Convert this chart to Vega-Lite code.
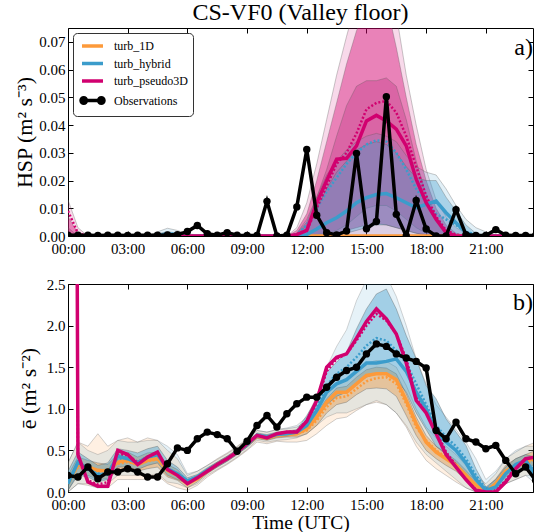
{
"$schema": "https://vega.github.io/schema/vega-lite/v6.json",
"padding": {"left": 13, "top": 0, "right": 0, "bottom": 0},
"config": {
  "font": "Liberation Serif",
  "view": {"stroke": "#000", "strokeWidth": 1},
  "axis": {"grid": false, "domain": false, "tickColor": "#000", "tickSize": -5, "labelPadding": 8, "labelFont": "Liberation Serif", "labelFontSize": 15, "labelColor": "#000", "labelFlush": false, "titleFont": "Liberation Serif", "titleFontSize": 22, "titleFontWeight": "normal", "titleColor": "#000"},
  "axisBottom": {"labelPadding": 10},
  "legend": {"labelFont": "Liberation Serif"},
  "text": {"font": "Liberation Serif"},
  "title": {"font": "Liberation Serif", "fontSize": 24, "fontWeight": "normal", "color": "#000", "offset": 3}
},
"spacing": 48,
"bounds": "flush",
"resolve": {"scale": {"color": "independent"}, "legend": {"color": "independent"}},
"datasets": {
"a": [
{"h":0,"Observations":0.0003,"turb_1D":0,"turb_hybrid":0,"hyd":0,"turb_pseudo3D":0,"p3d":0.009,"p3o":0.013,"p3ml":0,"p3m":0.007,"p3il":0,"p3i":0.003,"hyo":0.001,"hyil":0,"hyi":0},
{"h":0.5,"Observations":0.0003,"turb_1D":0,"turb_hybrid":0,"hyd":0,"turb_pseudo3D":0,"p3d":0.001,"p3o":0.003,"p3ml":0,"p3m":0.001,"p3il":0,"p3i":0,"hyo":0.0005,"hyil":0,"hyi":0},
{"h":1,"Observations":0.0003,"turb_1D":0,"turb_hybrid":0,"hyd":0,"turb_pseudo3D":0,"p3d":0,"p3o":0,"p3ml":0,"p3m":0,"p3il":0,"p3i":0,"hyo":0,"hyil":0,"hyi":0},
{"h":1.5,"Observations":0.0002,"turb_1D":0,"turb_hybrid":0,"hyd":0,"turb_pseudo3D":0,"p3d":0,"p3o":0,"p3ml":0,"p3m":0,"p3il":0,"p3i":0,"hyo":0,"hyil":0,"hyi":0},
{"h":2,"Observations":0.0003,"turb_1D":0,"turb_hybrid":0,"hyd":0,"turb_pseudo3D":0,"p3d":0,"p3o":0,"p3ml":0,"p3m":0,"p3il":0,"p3i":0,"hyo":0,"hyil":0,"hyi":0},
{"h":2.5,"Observations":0.0003,"turb_1D":0,"turb_hybrid":0,"hyd":0,"turb_pseudo3D":0,"p3d":0,"p3o":0,"p3ml":0,"p3m":0,"p3il":0,"p3i":0,"hyo":0,"hyil":0,"hyi":0},
{"h":3,"Observations":0.0002,"turb_1D":0,"turb_hybrid":0,"hyd":0,"turb_pseudo3D":0,"p3d":0,"p3o":0,"p3ml":0,"p3m":0,"p3il":0,"p3i":0,"hyo":0,"hyil":0,"hyi":0},
{"h":3.5,"Observations":0.0003,"turb_1D":0,"turb_hybrid":0,"hyd":0,"turb_pseudo3D":0,"p3d":0,"p3o":0,"p3ml":0,"p3m":0,"p3il":0,"p3i":0,"hyo":0,"hyil":0,"hyi":0},
{"h":4,"Observations":0.0003,"turb_1D":0,"turb_hybrid":0,"hyd":0,"turb_pseudo3D":0,"p3d":0,"p3o":0,"p3ml":0,"p3m":0,"p3il":0,"p3i":0,"hyo":0,"hyil":0,"hyi":0},
{"h":4.5,"Observations":0.0003,"turb_1D":0,"turb_hybrid":0,"hyd":0,"turb_pseudo3D":0,"p3d":0,"p3o":0,"p3ml":0,"p3m":0,"p3il":0,"p3i":0,"hyo":0.0015,"hyil":0,"hyi":0.0008},
{"h":5,"Observations":0.0004,"turb_1D":0,"turb_hybrid":0.0008,"hyd":0.001,"turb_pseudo3D":0,"p3d":0,"p3o":0,"p3ml":0,"p3m":0,"p3il":0,"p3i":0,"hyo":0.0028,"hyil":0,"hyi":0.0016},
{"h":5.5,"Observations":0.0005,"turb_1D":0,"turb_hybrid":0.0004,"hyd":0.0005,"turb_pseudo3D":0,"p3d":0,"p3o":0,"p3ml":0,"p3m":0,"p3il":0,"p3i":0,"hyo":0.002,"hyil":0,"hyi":0.001},
{"h":6,"Observations":0.0016,"turb_1D":0,"turb_hybrid":0,"hyd":0,"turb_pseudo3D":0,"p3d":0,"p3o":0,"p3ml":0,"p3m":0,"p3il":0,"p3i":0,"hyo":0.0008,"hyil":0,"hyi":0.0003},
{"h":6.5,"Observations":0.0038,"turb_1D":0,"turb_hybrid":0,"hyd":0,"turb_pseudo3D":0,"p3d":0,"p3o":0,"p3ml":0,"p3m":0,"p3il":0,"p3i":0,"hyo":0.0004,"hyil":0,"hyi":0},
{"h":7,"Observations":0.0008,"turb_1D":0,"turb_hybrid":0,"hyd":0,"turb_pseudo3D":0,"p3d":0,"p3o":0,"p3ml":0,"p3m":0,"p3il":0,"p3i":0,"hyo":0,"hyil":0,"hyi":0},
{"h":7.5,"Observations":0.0003,"turb_1D":0,"turb_hybrid":0,"hyd":0,"turb_pseudo3D":0,"p3d":0,"p3o":0,"p3ml":0,"p3m":0,"p3il":0,"p3i":0,"hyo":0,"hyil":0,"hyi":0},
{"h":8,"Observations":0.0012,"turb_1D":0,"turb_hybrid":0,"hyd":0,"turb_pseudo3D":0,"p3d":0,"p3o":0,"p3ml":0,"p3m":0,"p3il":0,"p3i":0,"hyo":0,"hyil":0,"hyi":0},
{"h":8.5,"Observations":0.0003,"turb_1D":0,"turb_hybrid":0,"hyd":0,"turb_pseudo3D":0,"p3d":0,"p3o":0,"p3ml":0,"p3m":0,"p3il":0,"p3i":0,"hyo":0,"hyil":0,"hyi":0},
{"h":9,"Observations":0.0002,"turb_1D":0,"turb_hybrid":0,"hyd":0,"turb_pseudo3D":0,"p3d":0,"p3o":0,"p3ml":0,"p3m":0,"p3il":0,"p3i":0,"hyo":0,"hyil":0,"hyi":0},
{"h":9.5,"Observations":0.0002,"turb_1D":0,"turb_hybrid":0,"hyd":0,"turb_pseudo3D":0,"p3d":0,"p3o":0,"p3ml":0,"p3m":0,"p3il":0,"p3i":0,"hyo":0,"hyil":0,"hyi":0},
{"h":10,"Observations":0.0125,"turb_1D":0,"turb_hybrid":0,"hyd":0,"turb_pseudo3D":0,"p3d":0,"p3o":0,"p3ml":0,"p3m":0,"p3il":0,"p3i":0,"hyo":0,"hyil":0,"hyi":0},
{"h":10.5,"Observations":0,"turb_1D":0,"turb_hybrid":0,"hyd":0,"turb_pseudo3D":0,"p3d":0,"p3o":0,"p3ml":0,"p3m":0,"p3il":0,"p3i":0,"hyo":0,"hyil":0,"hyi":0},
{"h":11,"Observations":0.0003,"turb_1D":0,"turb_hybrid":0,"hyd":0,"turb_pseudo3D":0,"p3d":0,"p3o":0,"p3ml":0,"p3m":0,"p3il":0,"p3i":0,"hyo":0,"hyil":0,"hyi":0},
{"h":11.5,"Observations":0.0105,"turb_1D":0,"turb_hybrid":0,"hyd":0.0005,"turb_pseudo3D":0.0005,"p3d":0.0005,"p3o":0.003,"p3ml":0,"p3m":0.002,"p3il":0,"p3i":0.001,"hyo":0.001,"hyil":0,"hyi":0.0005},
{"h":12,"Observations":0.0312,"turb_1D":0,"turb_hybrid":0.0005,"hyd":0.004,"turb_pseudo3D":0.002,"p3d":0.002,"p3o":0.012,"p3ml":0,"p3m":0.008,"p3il":0,"p3i":0.005,"hyo":0.006,"hyil":0,"hyi":0.004},
{"h":12.5,"Observations":0.0075,"turb_1D":0,"turb_hybrid":0.0025,"hyd":0.010,"turb_pseudo3D":0.012,"p3d":0.010,"p3o":0.026,"p3ml":0,"p3m":0.020,"p3il":0.0005,"p3i":0.014,"hyo":0.014,"hyil":0,"hyi":0.010},
{"h":13,"Observations":0.0012,"turb_1D":0,"turb_hybrid":0.0048,"hyd":0.016,"turb_pseudo3D":0.020,"p3d":0.018,"p3o":0.042,"p3ml":0.0005,"p3m":0.034,"p3il":0.001,"p3i":0.024,"hyo":0.022,"hyil":0,"hyi":0.017},
{"h":13.5,"Observations":0.0004,"turb_1D":0,"turb_hybrid":0.0066,"hyd":0.021,"turb_pseudo3D":0.0277,"p3d":0.026,"p3o":0.058,"p3ml":0.001,"p3m":0.048,"p3il":0.002,"p3i":0.036,"hyo":0.027,"hyil":0.0005,"hyi":0.023},
{"h":14,"Observations":0.0018,"turb_1D":0,"turb_hybrid":0.009,"hyd":0.026,"turb_pseudo3D":0.028,"p3d":0.030,"p3o":0.072,"p3ml":0.002,"p3m":0.062,"p3il":0.004,"p3i":0.047,"hyo":0.031,"hyil":0.001,"hyi":0.027},
{"h":14.5,"Observations":0.0298,"turb_1D":0,"turb_hybrid":0.012,"hyd":0.030,"turb_pseudo3D":0.0325,"p3d":0.037,"p3o":0.085,"p3ml":0.003,"p3m":0.074,"p3il":0.007,"p3i":0.054,"hyo":0.034,"hyil":0.002,"hyi":0.031},
{"h":15,"Observations":0.0026,"turb_1D":0,"turb_hybrid":0.0138,"hyd":0.033,"turb_pseudo3D":0.0415,"p3d":0.0457,"p3o":0.095,"p3ml":0.004,"p3m":0.082,"p3il":0.010,"p3i":0.056,"hyo":0.036,"hyil":0.003,"hyi":0.033},
{"h":15.5,"Observations":0.0052,"turb_1D":0,"turb_hybrid":0.015,"hyd":0.0345,"turb_pseudo3D":0.0435,"p3d":0.048,"p3o":0.10,"p3ml":0.0045,"p3m":0.086,"p3il":0.011,"p3i":0.056,"hyo":0.037,"hyil":0.004,"hyi":0.034},
{"h":16,"Observations":0.0502,"turb_1D":0,"turb_hybrid":0.0153,"hyd":0.034,"turb_pseudo3D":0.0415,"p3d":0.0487,"p3o":0.098,"p3ml":0.004,"p3m":0.084,"p3il":0.011,"p3i":0.057,"hyo":0.036,"hyil":0.004,"hyi":0.033},
{"h":16.5,"Observations":0.0078,"turb_1D":0,"turb_hybrid":0.0138,"hyd":0.030,"turb_pseudo3D":0.0385,"p3d":0.0445,"p3o":0.08,"p3ml":0.003,"p3m":0.068,"p3il":0.009,"p3i":0.054,"hyo":0.034,"hyil":0.003,"hyi":0.030},
{"h":17,"Observations":0,"turb_1D":0,"turb_hybrid":0.012,"hyd":0.024,"turb_pseudo3D":0.0325,"p3d":0.036,"p3o":0.058,"p3ml":0.002,"p3m":0.05,"p3il":0.006,"p3i":0.042,"hyo":0.029,"hyil":0.002,"hyi":0.025},
{"h":17.5,"Observations":0.0128,"turb_1D":0,"turb_hybrid":0.0102,"hyd":0.017,"turb_pseudo3D":0.0205,"p3d":0.025,"p3o":0.04,"p3ml":0.001,"p3m":0.033,"p3il":0.003,"p3i":0.027,"hyo":0.025,"hyil":0.001,"hyi":0.021},
{"h":18,"Observations":0.0025,"turb_1D":0,"turb_hybrid":0.0114,"hyd":0.012,"turb_pseudo3D":0.012,"p3d":0.0145,"p3o":0.024,"p3ml":0,"p3m":0.02,"p3il":0.001,"p3i":0.015,"hyo":0.023,"hyil":0.0005,"hyi":0.020},
{"h":18.5,"Observations":0,"turb_1D":0,"turb_hybrid":0.0126,"hyd":0.008,"turb_pseudo3D":0.006,"p3d":0.007,"p3o":0.013,"p3ml":0,"p3m":0.01,"p3il":0,"p3i":0.007,"hyo":0.022,"hyil":0,"hyi":0.020},
{"h":19,"Observations":0,"turb_1D":0,"turb_hybrid":0.0084,"hyd":0.006,"turb_pseudo3D":0.0012,"p3d":0.002,"p3o":0.007,"p3ml":0,"p3m":0.004,"p3il":0,"p3i":0.002,"hyo":0.017,"hyil":0,"hyi":0.014},
{"h":19.5,"Observations":0.0095,"turb_1D":0,"turb_hybrid":0.0048,"hyd":0.004,"turb_pseudo3D":0,"p3d":0.0005,"p3o":0.003,"p3ml":0,"p3m":0.001,"p3il":0,"p3i":0.0005,"hyo":0.011,"hyil":0,"hyi":0.009},
{"h":20,"Observations":0.0005,"turb_1D":0,"turb_hybrid":0.0012,"hyd":0.0015,"turb_pseudo3D":0,"p3d":0,"p3o":0.001,"p3ml":0,"p3m":0,"p3il":0,"p3i":0,"hyo":0.006,"hyil":0,"hyi":0.004},
{"h":20.5,"Observations":0.0002,"turb_1D":0,"turb_hybrid":0,"hyd":0.0005,"turb_pseudo3D":0,"p3d":0,"p3o":0,"p3ml":0,"p3m":0,"p3il":0,"p3i":0,"hyo":0.003,"hyil":0,"hyi":0.001},
{"h":21,"Observations":0.0002,"turb_1D":0,"turb_hybrid":0,"hyd":0,"turb_pseudo3D":0,"p3d":0,"p3o":0,"p3ml":0,"p3m":0,"p3il":0,"p3i":0,"hyo":0.0015,"hyil":0,"hyi":0},
{"h":21.5,"Observations":0.0023,"turb_1D":0,"turb_hybrid":0,"hyd":0,"turb_pseudo3D":0,"p3d":0,"p3o":0,"p3ml":0,"p3m":0,"p3il":0,"p3i":0,"hyo":0.0005,"hyil":0,"hyi":0},
{"h":22,"Observations":0.0003,"turb_1D":0,"turb_hybrid":0,"hyd":0,"turb_pseudo3D":0,"p3d":0,"p3o":0,"p3ml":0,"p3m":0,"p3il":0,"p3i":0,"hyo":0,"hyil":0,"hyi":0},
{"h":22.5,"Observations":0.0002,"turb_1D":0,"turb_hybrid":0,"hyd":0,"turb_pseudo3D":0,"p3d":0,"p3o":0,"p3ml":0,"p3m":0,"p3il":0,"p3i":0,"hyo":0,"hyil":0,"hyi":0},
{"h":23,"Observations":0.0002,"turb_1D":0,"turb_hybrid":0,"hyd":0,"turb_pseudo3D":0,"p3d":0,"p3o":0,"p3ml":0,"p3m":0,"p3il":0,"p3i":0,"hyo":0,"hyil":0,"hyi":0},
{"h":23.5,"Observations":0.0002,"turb_1D":0,"turb_hybrid":0,"hyd":0,"turb_pseudo3D":0,"p3d":0,"p3o":0,"p3ml":0,"p3m":0,"p3il":0,"p3i":0,"hyo":0,"hyil":0,"hyi":0}
],
"b": [
{"h":0,"Observations":0.20,"turb_1D":0.10,"d1d":0.12,"turb_hybrid":0.10,"hyd":0.15,"turb_pseudo3D":30,"p3d":30,"ool":0,"ooh":0.35,"oil":0.02,"oih":0.20,"bol":0,"boh":0.35,"bil":0.02,"bih":0.25},
{"h":0.5,"Observations":0.18,"turb_1D":0.33,"d1d":0.30,"turb_hybrid":0.36,"hyd":0.33,"turb_pseudo3D":0.45,"p3d":0.42,"ool":0.10,"ooh":0.60,"oil":0.22,"oih":0.42,"bol":0.10,"boh":0.60,"bil":0.20,"bih":0.48},
{"h":1,"Observations":0.30,"turb_1D":0.30,"d1d":0.28,"turb_hybrid":0.28,"hyd":0.27,"turb_pseudo3D":0.12,"p3d":0.14,"ool":0.08,"ooh":0.55,"oil":0.20,"oih":0.38,"bol":0.10,"boh":0.50,"bil":0.18,"bih":0.40},
{"h":1.5,"Observations":0.16,"turb_1D":0.26,"d1d":0.25,"turb_hybrid":0.20,"hyd":0.22,"turb_pseudo3D":0.07,"p3d":0.09,"ool":0.05,"ooh":0.70,"oil":0.15,"oih":0.35,"bol":0.05,"boh":0.45,"bil":0.12,"bih":0.32},
{"h":2,"Observations":0.24,"turb_1D":0.25,"d1d":0.27,"turb_hybrid":0.22,"hyd":0.25,"turb_pseudo3D":0.07,"p3d":0.12,"ool":0.05,"ooh":0.55,"oil":0.16,"oih":0.33,"bol":0.10,"boh":0.50,"bil":0.15,"bih":0.35},
{"h":2.5,"Observations":0.24,"turb_1D":0.36,"d1d":0.34,"turb_hybrid":0.43,"hyd":0.40,"turb_pseudo3D":0.50,"p3d":0.45,"ool":0.15,"ooh":0.62,"oil":0.25,"oih":0.45,"bol":0.20,"boh":0.62,"bil":0.30,"bih":0.52},
{"h":3,"Observations":0.28,"turb_1D":0.38,"d1d":0.36,"turb_hybrid":0.40,"hyd":0.40,"turb_pseudo3D":0.45,"p3d":0.44,"ool":0.15,"ooh":0.65,"oil":0.28,"oih":0.48,"bol":0.20,"boh":0.60,"bil":0.30,"bih":0.50},
{"h":3.5,"Observations":0.24,"turb_1D":0.33,"d1d":0.33,"turb_hybrid":0.35,"hyd":0.36,"turb_pseudo3D":0.33,"p3d":0.36,"ool":0.15,"ooh":0.60,"oil":0.25,"oih":0.42,"bol":0.20,"boh":0.60,"bil":0.27,"bih":0.47},
{"h":4,"Observations":0.18,"turb_1D":0.38,"d1d":0.37,"turb_hybrid":0.42,"hyd":0.41,"turb_pseudo3D":0.42,"p3d":0.42,"ool":0.15,"ooh":0.65,"oil":0.28,"oih":0.47,"bol":0.20,"boh":0.62,"bil":0.32,"bih":0.52},
{"h":4.5,"Observations":0.18,"turb_1D":0.40,"d1d":0.39,"turb_hybrid":0.45,"hyd":0.44,"turb_pseudo3D":0.48,"p3d":0.46,"ool":0.20,"ooh":0.62,"oil":0.30,"oih":0.48,"bol":0.22,"boh":0.62,"bil":0.35,"bih":0.55},
{"h":5,"Observations":0.34,"turb_1D":0.26,"d1d":0.27,"turb_hybrid":0.28,"hyd":0.28,"turb_pseudo3D":0.27,"p3d":0.27,"ool":0.10,"ooh":0.50,"oil":0.18,"oih":0.33,"bol":0.12,"boh":0.55,"bil":0.20,"bih":0.38},
{"h":5.5,"Observations":0.53,"turb_1D":0.20,"d1d":0.21,"turb_hybrid":0.22,"hyd":0.22,"turb_pseudo3D":0.20,"p3d":0.21,"ool":0.05,"ooh":0.40,"oil":0.14,"oih":0.27,"bol":0.10,"boh":0.45,"bil":0.15,"bih":0.30},
{"h":6,"Observations":0.50,"turb_1D":0.10,"d1d":0.12,"turb_hybrid":0.13,"hyd":0.14,"turb_pseudo3D":0.10,"p3d":0.12,"ool":0.02,"ooh":0.20,"oil":0.05,"oih":0.14,"bol":0.05,"boh":0.22,"bil":0.10,"bih":0.17},
{"h":6.5,"Observations":0.64,"turb_1D":0.16,"d1d":0.17,"turb_hybrid":0.18,"hyd":0.18,"turb_pseudo3D":0.17,"p3d":0.17,"ool":0.08,"ooh":0.25,"oil":0.12,"oih":0.20,"bol":0.10,"boh":0.25,"bil":0.15,"bih":0.21},
{"h":7,"Observations":0.72,"turb_1D":0.25,"d1d":0.25,"turb_hybrid":0.26,"hyd":0.26,"turb_pseudo3D":0.25,"p3d":0.25,"ool":0.18,"ooh":0.32,"oil":0.22,"oih":0.28,"bol":0.20,"boh":0.32,"bil":0.23,"bih":0.29},
{"h":7.5,"Observations":0.69,"turb_1D":0.33,"d1d":0.33,"turb_hybrid":0.33,"hyd":0.33,"turb_pseudo3D":0.33,"p3d":0.33,"ool":0.26,"ooh":0.40,"oil":0.30,"oih":0.36,"bol":0.27,"boh":0.39,"bil":0.30,"bih":0.36},
{"h":8,"Observations":0.64,"turb_1D":0.40,"d1d":0.40,"turb_hybrid":0.40,"hyd":0.40,"turb_pseudo3D":0.40,"p3d":0.40,"ool":0.33,"ooh":0.47,"oil":0.37,"oih":0.43,"bol":0.34,"boh":0.46,"bil":0.37,"bih":0.43},
{"h":8.5,"Observations":0.49,"turb_1D":0.48,"d1d":0.48,"turb_hybrid":0.48,"hyd":0.48,"turb_pseudo3D":0.48,"p3d":0.48,"ool":0.41,"ooh":0.55,"oil":0.45,"oih":0.51,"bol":0.42,"boh":0.54,"bil":0.45,"bih":0.51},
{"h":9,"Observations":0.61,"turb_1D":0.57,"d1d":0.57,"turb_hybrid":0.57,"hyd":0.57,"turb_pseudo3D":0.58,"p3d":0.58,"ool":0.50,"ooh":0.64,"oil":0.54,"oih":0.60,"bol":0.51,"boh":0.63,"bil":0.54,"bih":0.60},
{"h":9.5,"Observations":0.80,"turb_1D":0.67,"d1d":0.67,"turb_hybrid":0.68,"hyd":0.68,"turb_pseudo3D":0.68,"p3d":0.68,"ool":0.60,"ooh":0.74,"oil":0.64,"oih":0.70,"bol":0.62,"boh":0.74,"bil":0.65,"bih":0.71},
{"h":10,"Observations":0.92,"turb_1D":0.65,"d1d":0.65,"turb_hybrid":0.66,"hyd":0.66,"turb_pseudo3D":0.65,"p3d":0.65,"ool":0.58,"ooh":0.72,"oil":0.62,"oih":0.68,"bol":0.60,"boh":0.72,"bil":0.63,"bih":0.69},
{"h":10.5,"Observations":0.78,"turb_1D":0.68,"d1d":0.68,"turb_hybrid":0.69,"hyd":0.69,"turb_pseudo3D":0.70,"p3d":0.70,"ool":0.61,"ooh":0.75,"oil":0.65,"oih":0.71,"bol":0.62,"boh":0.75,"bil":0.66,"bih":0.72},
{"h":11,"Observations":0.94,"turb_1D":0.69,"d1d":0.69,"turb_hybrid":0.70,"hyd":0.70,"turb_pseudo3D":0.72,"p3d":0.72,"ool":0.60,"ooh":0.76,"oil":0.66,"oih":0.72,"bol":0.63,"boh":0.77,"bil":0.67,"bih":0.73},
{"h":11.5,"Observations":1.06,"turb_1D":0.70,"d1d":0.70,"turb_hybrid":0.72,"hyd":0.72,"turb_pseudo3D":0.72,"p3d":0.73,"ool":0.60,"ooh":0.78,"oil":0.66,"oih":0.74,"bol":0.65,"boh":0.80,"bil":0.69,"bih":0.75},
{"h":12,"Observations":1.14,"turb_1D":0.76,"d1d":0.74,"turb_hybrid":0.80,"hyd":0.82,"turb_pseudo3D":0.85,"p3d":0.86,"ool":0.62,"ooh":0.85,"oil":0.70,"oih":0.80,"bol":0.70,"boh":0.90,"bil":0.76,"bih":0.92},
{"h":12.5,"Observations":1.14,"turb_1D":0.90,"d1d":0.86,"turb_hybrid":0.98,"hyd":1.02,"turb_pseudo3D":1.10,"p3d":1.08,"ool":0.70,"ooh":1.0,"oil":0.80,"oih":0.95,"bol":0.80,"boh":1.15,"bil":0.88,"bih":1.12},
{"h":13,"Observations":1.26,"turb_1D":1.08,"d1d":1.02,"turb_hybrid":1.20,"hyd":1.28,"turb_pseudo3D":1.50,"p3d":1.45,"ool":0.80,"ooh":1.20,"oil":0.95,"oih":1.12,"bol":0.90,"boh":1.50,"bil":1.05,"bih":1.44},
{"h":13.5,"Observations":1.38,"turb_1D":1.20,"d1d":1.13,"turb_hybrid":1.30,"hyd":1.42,"turb_pseudo3D":1.62,"p3d":1.60,"ool":0.88,"ooh":1.32,"oil":1.05,"oih":1.25,"bol":0.95,"boh":1.75,"bil":1.15,"bih":1.56},
{"h":14,"Observations":1.46,"turb_1D":1.20,"d1d":1.15,"turb_hybrid":1.35,"hyd":1.50,"turb_pseudo3D":1.66,"p3d":1.66,"ool":0.90,"ooh":1.35,"oil":1.08,"oih":1.27,"bol":0.95,"boh":1.95,"bil":1.20,"bih":1.68},
{"h":14.5,"Observations":1.50,"turb_1D":1.30,"d1d":1.24,"turb_hybrid":1.45,"hyd":1.62,"turb_pseudo3D":1.85,"p3d":1.82,"ool":0.98,"ooh":1.45,"oil":1.17,"oih":1.38,"bol":1.0,"boh":2.30,"bil":1.30,"bih":1.96},
{"h":15,"Observations":1.66,"turb_1D":1.40,"d1d":1.33,"turb_hybrid":1.55,"hyd":1.76,"turb_pseudo3D":2.05,"p3d":2.00,"ool":1.05,"ooh":1.55,"oil":1.24,"oih":1.47,"bol":1.05,"boh":2.55,"bil":1.38,"bih":2.20},
{"h":15.5,"Observations":1.78,"turb_1D":1.42,"d1d":1.37,"turb_hybrid":1.55,"hyd":1.85,"turb_pseudo3D":2.20,"p3d":2.14,"ool":1.08,"ooh":1.58,"oil":1.25,"oih":1.50,"bol":1.10,"boh":2.65,"bil":1.42,"bih":2.38},
{"h":16,"Observations":1.75,"turb_1D":1.42,"d1d":1.38,"turb_hybrid":1.57,"hyd":1.82,"turb_pseudo3D":2.08,"p3d":2.06,"ool":1.05,"ooh":1.57,"oil":1.24,"oih":1.49,"bol":1.05,"boh":2.60,"bil":1.42,"bih":2.44},
{"h":16.5,"Observations":1.66,"turb_1D":1.35,"d1d":1.30,"turb_hybrid":1.60,"hyd":1.70,"turb_pseudo3D":1.90,"p3d":1.90,"ool":0.95,"ooh":1.50,"oil":1.15,"oih":1.42,"bol":0.95,"boh":2.35,"bil":1.35,"bih":2.20},
{"h":17,"Observations":1.61,"turb_1D":1.10,"d1d":1.06,"turb_hybrid":1.45,"hyd":1.55,"turb_pseudo3D":1.55,"p3d":1.60,"ool":0.78,"ooh":1.28,"oil":0.92,"oih":1.18,"bol":0.80,"boh":2.00,"bil":1.20,"bih":1.88},
{"h":17.5,"Observations":1.57,"turb_1D":0.82,"d1d":0.78,"turb_hybrid":1.20,"hyd":1.30,"turb_pseudo3D":1.10,"p3d":1.15,"ool":0.55,"ooh":1.0,"oil":0.68,"oih":0.90,"bol":0.60,"boh":1.60,"bil":0.95,"bih":1.60},
{"h":18,"Observations":1.49,"turb_1D":0.60,"d1d":0.62,"turb_hybrid":1.00,"hyd":1.05,"turb_pseudo3D":0.95,"p3d":0.98,"ool":0.38,"ooh":0.78,"oil":0.50,"oih":0.68,"bol":0.45,"boh":1.30,"bil":0.75,"bih":1.28},
{"h":18.5,"Observations":0.74,"turb_1D":0.48,"d1d":0.50,"turb_hybrid":0.72,"hyd":0.80,"turb_pseudo3D":0.70,"p3d":0.74,"ool":0.28,"ooh":0.65,"oil":0.40,"oih":0.55,"bol":0.35,"boh":1.05,"bil":0.55,"bih":1.12},
{"h":19,"Observations":0.64,"turb_1D":0.40,"d1d":0.42,"turb_hybrid":0.60,"hyd":0.66,"turb_pseudo3D":0.45,"p3d":0.48,"ool":0.20,"ooh":0.55,"oil":0.32,"oih":0.47,"bol":0.25,"boh":0.90,"bil":0.45,"bih":0.88},
{"h":19.5,"Observations":0.84,"turb_1D":0.32,"d1d":0.33,"turb_hybrid":0.50,"hyd":0.55,"turb_pseudo3D":0.30,"p3d":0.32,"ool":0.12,"ooh":0.45,"oil":0.25,"oih":0.38,"bol":0.15,"boh":0.75,"bil":0.35,"bih":0.72},
{"h":20,"Observations":0.64,"turb_1D":0.20,"d1d":0.20,"turb_hybrid":0.35,"hyd":0.40,"turb_pseudo3D":0.15,"p3d":0.16,"ool":0.05,"ooh":0.32,"oil":0.14,"oih":0.26,"bol":0.05,"boh":0.60,"bil":0.22,"bih":0.56},
{"h":20.5,"Observations":0.60,"turb_1D":0.08,"d1d":0.08,"turb_hybrid":0.15,"hyd":0.20,"turb_pseudo3D":0.02,"p3d":0.03,"ool":0,"ooh":0.20,"oil":0.03,"oih":0.13,"bol":0,"boh":0.40,"bil":0.10,"bih":0.28},
{"h":21,"Observations":0.52,"turb_1D":0,"d1d":0.01,"turb_hybrid":0.02,"hyd":0.04,"turb_pseudo3D":0,"p3d":0.01,"ool":0,"ooh":0.10,"oil":0,"oih":0.04,"bol":0,"boh":0.15,"bil":0,"bih":0.06},
{"h":21.5,"Observations":0.56,"turb_1D":0.10,"d1d":0.10,"turb_hybrid":0.06,"hyd":0.08,"turb_pseudo3D":0,"p3d":0.02,"ool":0,"ooh":0.22,"oil":0.05,"oih":0.16,"bol":0,"boh":0.25,"bil":0,"bih":0.15},
{"h":22,"Observations":0.38,"turb_1D":0.25,"d1d":0.24,"turb_hybrid":0.22,"hyd":0.22,"turb_pseudo3D":0.12,"p3d":0.14,"ool":0.10,"ooh":0.40,"oil":0.18,"oih":0.32,"bol":0.10,"boh":0.40,"bil":0.15,"bih":0.30},
{"h":22.5,"Observations":0.22,"turb_1D":0.32,"d1d":0.30,"turb_hybrid":0.33,"hyd":0.32,"turb_pseudo3D":0.28,"p3d":0.30,"ool":0.15,"ooh":0.48,"oil":0.25,"oih":0.40,"bol":0.15,"boh":0.50,"bil":0.25,"bih":0.40},
{"h":23,"Observations":0.30,"turb_1D":0.36,"d1d":0.34,"turb_hybrid":0.38,"hyd":0.36,"turb_pseudo3D":0.40,"p3d":0.40,"ool":0.20,"ooh":0.55,"oil":0.30,"oih":0.45,"bol":0.20,"boh":0.55,"bil":0.30,"bih":0.45},
{"h":23.5,"Observations":0.14,"turb_1D":0.42,"d1d":0.40,"turb_hybrid":0.20,"hyd":0.25,"turb_pseudo3D":0.42,"p3d":0.42,"ool":0.20,"ooh":0.60,"oil":0.33,"oih":0.50,"bol":0.10,"boh":0.55,"bil":0.15,"bih":0.42}
]
},
"vconcat": [
{
  "title": {"text": "CS-VF0 (Valley floor)"},
  "width": 465, "height": 208,
  "data": {"name": "a"},
  "resolve": {"axis": {"x": "independent", "y": "independent"}},
  "encoding": {
    "x": {"field": "h", "type": "quantitative", "scale": {"domain": [0, 23.37], "nice": false, "zero": false}, "axis": null}
  },
  "layer": [
    {"mark": {"type": "area", "clip": true, "color": "#d1006f", "fillOpacity": 0.15, "stroke": "#555", "strokeOpacity": 0.4, "strokeWidth": 0.8},
     "encoding": {
       "x": {"field": "h", "type": "quantitative", "scale": {"domain": [0, 23.37], "nice": false, "zero": false},
             "axis": {"values": [0,3,6,9,12,15,18,21], "labelExpr": "(datum.value < 10 ? '0' : '') + datum.value + ':00'", "title": null}},
       "y": {"field": "p3o", "type": "quantitative", "scale": {"domain": [0, 0.075], "nice": false},
             "axis": {"values": [0,0.01,0.02,0.03,0.04,0.05,0.06,0.07], "format": ".2f", "title": "HSP (m² s⁻³)", "titlePadding": 2}},
       "y2": {"datum": 0}
     }},
    {"mark": {"type": "area", "clip": true, "color": "#d1006f", "fillOpacity": 0.4, "stroke": "#555", "strokeOpacity": 0.4, "strokeWidth": 0.8},
     "encoding": {"y": {"field": "p3m", "type": "quantitative", "scale": {"domain": [0, 0.075], "nice": false}, "axis": null}, "y2": {"field": "p3ml"}}},
    {"mark": {"type": "area", "clip": true, "color": "#b0106a", "fillOpacity": 0.25, "stroke": "#555", "strokeOpacity": 0.4, "strokeWidth": 0.8},
     "encoding": {"y": {"field": "p3i", "type": "quantitative", "scale": {"domain": [0, 0.075], "nice": false}, "axis": null}, "y2": {"field": "p3il"}}},
    {"mark": {"type": "area", "clip": true, "color": "#3b9ccb", "fillOpacity": 0.15, "stroke": "#555", "strokeOpacity": 0.4, "strokeWidth": 0.8},
     "encoding": {"y": {"field": "hyo", "type": "quantitative", "scale": {"domain": [0, 0.075], "nice": false}, "axis": null}, "y2": {"datum": 0}}},
    {"mark": {"type": "area", "clip": true, "color": "#3b9ccb", "fillOpacity": 0.35, "stroke": "#555", "strokeOpacity": 0.4, "strokeWidth": 0.8},
     "encoding": {"y": {"field": "hyi", "type": "quantitative", "scale": {"domain": [0, 0.075], "nice": false}, "axis": null}, "y2": {"field": "hyil"}}},
    {"mark": {"type": "line", "clip": true, "color": "#3b9ccb", "strokeWidth": 2.5, "strokeDash": [2, 2]},
     "encoding": {"y": {"field": "hyd", "type": "quantitative", "scale": {"domain": [0, 0.075], "nice": false}, "axis": null}}},
    {"mark": {"type": "line", "clip": true, "color": "#d1006f", "strokeWidth": 2.5, "strokeDash": [2, 2]},
     "encoding": {"y": {"field": "p3d", "type": "quantitative", "scale": {"domain": [0, 0.075], "nice": false}, "axis": null}}},
    {"transform": [{"fold": ["turb_1D", "turb_hybrid", "turb_pseudo3D", "Observations"], "as": ["series", "v"]}],
     "mark": {"type": "line", "clip": true, "strokeWidth": 3.5},
     "encoding": {
       "y": {"field": "v", "type": "quantitative", "scale": {"domain": [0, 0.075], "nice": false}, "axis": null},
       "color": {"field": "series", "type": "nominal",
         "scale": {"domain": ["turb_1D", "turb_hybrid", "turb_pseudo3D", "Observations"], "range": ["#fd9a3a", "#3b9ccb", "#d1006f", "#000000"]},
         "legend": {"orient": "top-left", "title": null, "offset": 5, "padding": 5, "strokeColor": "#333", "fillColor": "#fff", "cornerRadius": 4,
           "labelFontSize": 12, "labelFont": "Liberation Serif", "labelColor": "#000", "symbolSize": 144, "symbolStrokeWidth": 3.5, "rowPadding": 2.5, "labelOffset": 20,
           "encode": {"symbols": {"update": {
             "shape": {"signal": "datum.value === 'Observations' ? 'M-0.67,0H2.83M-0.83,0a0.45,0.45 0 1,0 0.9,0a0.45,0.45 0 1,0 -0.9,0M2.1,0a0.45,0.45 0 1,0 0.9,0a0.45,0.45 0 1,0 -0.9,0' : 'M-0.67,0H2.83'"},
             "fill": {"signal": "datum.value === 'Observations' ? '#000' : 'transparent'"}
           }}}}
       }
     }},
    {"mark": {"type": "point", "clip": true, "filled": true, "color": "#000", "size": 55, "opacity": 1},
     "encoding": {"y": {"field": "Observations", "type": "quantitative", "scale": {"domain": [0, 0.075], "nice": false}, "axis": null}}},
    {"data": {"values": [{"h": 23.37, "v": 0.0653, "t": "a)"}]},
     "mark": {"type": "text", "align": "right", "baseline": "alphabetic", "fontSize": 24, "font": "Liberation Serif", "color": "#000"},
     "encoding": {
       "x": {"field": "h", "type": "quantitative", "scale": {"domain": [0, 23.37], "nice": false, "zero": false},
             "axis": {"orient": "top", "values": [0,3,6,9,12,15,18,21], "labels": false, "title": null}},
       "y": {"field": "v", "type": "quantitative", "scale": {"domain": [0, 0.075], "nice": false},
             "axis": {"orient": "right", "values": [0,0.01,0.02,0.03,0.04,0.05,0.06,0.07], "labels": false, "title": null}},
       "text": {"field": "t"}
     }}
  ]
},
{
  "width": 465, "height": 208,
  "data": {"name": "b"},
  "resolve": {"axis": {"x": "independent", "y": "independent"}},
  "encoding": {
    "x": {"field": "h", "type": "quantitative", "scale": {"domain": [0, 23.37], "nice": false, "zero": false}, "axis": null}
  },
  "layer": [
    {"mark": {"type": "area", "clip": true, "color": "#fd9a3a", "fillOpacity": 0.15, "stroke": "#555", "strokeOpacity": 0.35, "strokeWidth": 0.8},
     "encoding": {
       "x": {"field": "h", "type": "quantitative", "scale": {"domain": [0, 23.37], "nice": false, "zero": false},
             "axis": {"values": [0,3,6,9,12,15,18,21], "labelExpr": "(datum.value < 10 ? '0' : '') + datum.value + ':00'", "title": "Time (UTC)", "titleFontSize": 19.5, "titlePadding": 1}},
       "y": {"field": "ooh", "type": "quantitative", "scale": {"domain": [0, 2.5], "nice": false},
             "axis": {"values": [0,0.5,1,1.5,2,2.5], "format": ".1f", "title": "ē (m² s⁻²)", "titlePadding": 6}},
       "y2": {"field": "ool"}
     }},
    {"mark": {"type": "area", "clip": true, "color": "#fd9a3a", "fillOpacity": 0.45, "stroke": "#555", "strokeOpacity": 0.45, "strokeWidth": 0.8},
     "encoding": {"y": {"field": "oih", "type": "quantitative", "scale": {"domain": [0, 2.5], "nice": false}, "axis": null}, "y2": {"field": "oil"}}},
    {"mark": {"type": "area", "clip": true, "color": "#3b9ccb", "fillOpacity": 0.13, "stroke": "#555", "strokeOpacity": 0.3, "strokeWidth": 0.8},
     "encoding": {"y": {"field": "boh", "type": "quantitative", "scale": {"domain": [0, 2.5], "nice": false}, "axis": null}, "y2": {"field": "bol"}}},
    {"mark": {"type": "area", "clip": true, "color": "#3b9ccb", "fillOpacity": 0.4, "stroke": "#555", "strokeOpacity": 0.45, "strokeWidth": 0.8},
     "encoding": {"y": {"field": "bih", "type": "quantitative", "scale": {"domain": [0, 2.5], "nice": false}, "axis": null}, "y2": {"field": "bil"}}},
    {"mark": {"type": "line", "clip": true, "color": "#fd9a3a", "strokeWidth": 2.5, "strokeDash": [2, 2]},
     "encoding": {"y": {"field": "d1d", "type": "quantitative", "scale": {"domain": [0, 2.5], "nice": false}, "axis": null}}},
    {"mark": {"type": "line", "clip": true, "color": "#3b9ccb", "strokeWidth": 2.5, "strokeDash": [2, 2]},
     "encoding": {"y": {"field": "hyd", "type": "quantitative", "scale": {"domain": [0, 2.5], "nice": false}, "axis": null}}},
    {"mark": {"type": "line", "clip": true, "color": "#d1006f", "strokeWidth": 2.5, "strokeDash": [2, 2]},
     "encoding": {"y": {"field": "p3d", "type": "quantitative", "scale": {"domain": [0, 2.5], "nice": false}, "axis": null}}},
    {"transform": [{"fold": ["turb_1D", "turb_hybrid", "turb_pseudo3D", "Observations"], "as": ["series", "v"]}],
     "mark": {"type": "line", "clip": true, "strokeWidth": 3.5},
     "encoding": {
       "y": {"field": "v", "type": "quantitative", "scale": {"domain": [0, 2.5], "nice": false}, "axis": null},
       "color": {"field": "series", "type": "nominal",
         "scale": {"domain": ["turb_1D", "turb_hybrid", "turb_pseudo3D", "Observations"], "range": ["#fd9a3a", "#3b9ccb", "#d1006f", "#000000"]},
         "legend": null}
     }},
    {"mark": {"type": "point", "clip": true, "filled": true, "color": "#000", "size": 55, "opacity": 1},
     "encoding": {"y": {"field": "Observations", "type": "quantitative", "scale": {"domain": [0, 2.5], "nice": false}, "axis": null}}},
    {"data": {"values": [{"h": 23.37, "v": 2.19, "t": "b)"}]},
     "mark": {"type": "text", "align": "right", "baseline": "alphabetic", "fontSize": 24, "font": "Liberation Serif", "color": "#000"},
     "encoding": {
       "x": {"field": "h", "type": "quantitative", "scale": {"domain": [0, 23.37], "nice": false, "zero": false},
             "axis": {"orient": "top", "values": [0,3,6,9,12,15,18,21], "labels": false, "title": null}},
       "y": {"field": "v", "type": "quantitative", "scale": {"domain": [0, 2.5], "nice": false},
             "axis": {"orient": "right", "values": [0,0.5,1,1.5,2,2.5], "labels": false, "title": null}},
       "text": {"field": "t"}
     }}
  ]
}
]
}
